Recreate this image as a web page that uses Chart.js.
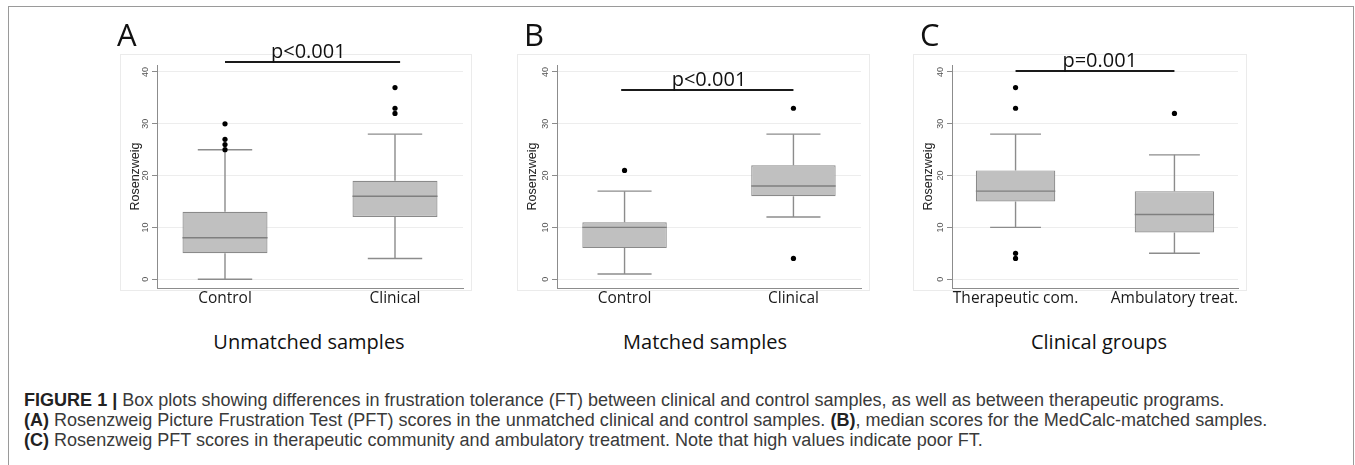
<!DOCTYPE html>
<html><head><meta charset="utf-8">
<script src="https://cdn.jsdelivr.net/npm/chart.js@4.4.1/dist/chart.umd.min.js"></script>
<style>
html,body{margin:0;padding:0;background:#fff;}
body{width:1355px;height:465px;overflow:hidden;position:relative;font-family:'Open Sans',sans-serif;}
#frame{position:absolute;left:8px;top:6px;width:1346px;height:480px;border:1px solid #9a9a9a;box-sizing:border-box;}
.region{position:absolute;top:54px;height:237px;border:1px solid #ebebeb;box-sizing:border-box;}
canvas{position:absolute;top:30px;}
.letter{position:absolute;top:19px;font-family:'Open Sans';font-size:31px;line-height:31px;color:#111;}
.sub{position:absolute;top:332px;font-family:'Open Sans';font-size:20px;line-height:20px;color:#111;transform:translateX(-50%);white-space:nowrap;}
.cap{position:absolute;left:24px;font-family:'Liberation Sans',Arial,sans-serif;color:#3a3a3a;white-space:nowrap;line-height:20px;font-size:16px;}
.cap b{color:#222;}
</style>
</head><body>
<div id="frame"></div>
<div class="region" style="left:120px;width:352px"></div>
<div class="region" style="left:517px;width:353px"></div>
<div class="region" style="left:913px;width:334px"></div>
<canvas id="cA" width="352" height="290" style="left:120px"></canvas>
<canvas id="cB" width="353" height="290" style="left:517px"></canvas>
<canvas id="cC" width="334" height="290" style="left:913px"></canvas>
<div class="letter" style="left:117px">A</div>
<div class="letter" style="left:524px">B</div>
<div class="letter" style="left:920px">C</div>
<div class="sub" style="left:309px">Unmatched samples</div>
<div class="sub" style="left:705px">Matched samples</div>
<div class="sub" style="left:1099px">Clinical groups</div>
<div class="cap" id="cap1" style="top:390px"><b>FIGURE 1 |</b> Box plots showing differences in frustration tolerance (FT) between clinical and control samples, as well as between therapeutic programs.</div>
<div class="cap" id="cap2" style="top:410px"><b>(A)</b> Rosenzweig Picture Frustration Test (PFT) scores in the unmatched clinical and control samples. <b>(B)</b>, median scores for the MedCalc-matched samples.</div>
<div class="cap" id="cap3" style="top:430px"><b>(C)</b> Rosenzweig PFT scores in therapeutic community and ambulatory treatment. Note that high values indicate poor FT.</div>
<script>
// ---- data ----
const yTicks = [0, 10, 20, 30, 40];
const xPos = [1, 2];

const catsA = ['Control', 'Clinical'];
const minA = [0, 4];
const q1A = [5, 12];
const medA = [8, 16];
const q3A = [13, 19];
const maxA = [25, 28];
const outA = [[25, 26, 27, 30], [32, 33, 37]];

const catsB = ['Control', 'Clinical'];
const minB = [1, 12];
const q1B = [6, 16];
const medB = [10, 18];
const q3B = [11, 22];
const maxB = [17, 28];
const outB = [[21], [33, 4]];

const catsC = ['Therapeutic com.', 'Ambulatory treat.'];
const minC = [10, 5];
const q1C = [15, 9];
const medC = [17, 12.5];
const q3C = [21, 17];
const maxC = [28, 24];
const outC = [[37, 33, 5, 4], [32]];

const pLabels = ['p<0.001', 'p<0.001', 'p=0.001'];
const bracketY = [42.0, 36.5, 40.1];
const bracketFrom = [1, 0.98, 1];
const bracketTo = [2.03, 2.0, 2.0];
const labelX = [1.49, 1.5, 1.53];

// ---- styles ----
const GRAY = '#8c8c8c';

function halfWidth(ctx, units) {
  const s = ctx.chart.scales.x;
  return Math.abs(s.getPixelForValue(1 + units) - s.getPixelForValue(1));
}

function makePanel(id, idx, cats, mins, q1s, meds, q3s, maxs, outs, yAxisWidth) {
  const whisk = [];
  xPos.forEach((x, i) => {
    whisk.push({x, y: q3s[i]}, {x, y: maxs[i]}, {x, y: null},
               {x, y: q1s[i]}, {x, y: mins[i]}, {x, y: null});
  });
  const caps = [];
  xPos.forEach((x, i) => { caps.push({x, y: mins[i]}, {x, y: maxs[i]}); });

  const bracketPlugin = {
    id: 'bracket' + idx,
    afterDraw(chart) {
      const c = chart.ctx, xs = chart.scales.x, ys = chart.scales.y;
      const y = Math.round(ys.getPixelForValue(bracketY[idx]));
      c.save();
      c.strokeStyle = '#1a1a1a';
      c.lineWidth = 2;
      c.beginPath();
      c.moveTo(xs.getPixelForValue(bracketFrom[idx]), y);
      c.lineTo(xs.getPixelForValue(bracketTo[idx]), y);
      c.stroke();
      c.fillStyle = '#111';
      c.font = '20px "Open Sans"';
      c.textAlign = 'center';
      c.textBaseline = 'alphabetic';
      c.fillText(pLabels[idx], xs.getPixelForValue(labelX[idx]), y - 4);
      c.restore();
    }
  };

  return new Chart(document.getElementById(id), {
    type: 'bar',
    data: {
      datasets: [
        {
          type: 'scatter', order: 0,
          data: outs.flatMap((arr, i) => arr.map(v => ({x: xPos[i], y: v}))),
          pointRadius: 2.6, pointBackgroundColor: '#000', pointBorderWidth: 0
        },
        {
          type: 'scatter', order: 1,
          data: meds.map((v, i) => ({x: xPos[i], y: v})),
          pointStyle: 'line', pointRadius: ctx => halfWidth(ctx, 0.25),
          pointBorderColor: '#7f7f7f', pointBorderWidth: 1.4
        },
        {
          type: 'scatter', order: 2,
          data: caps,
          pointStyle: 'line', pointRadius: ctx => halfWidth(ctx, 0.16),
          pointBorderColor: GRAY, pointBorderWidth: 1.4
        },
        {
          type: 'line', order: 3,
          data: whisk, spanGaps: false,
          borderColor: GRAY, borderWidth: 1.4, pointRadius: 0, fill: false
        },
        {
          type: 'bar', order: 4,
          data: q1s.map((v, i) => ({x: xPos[i], y: [v, q3s[i]]})),
          backgroundColor: '#c0c0c0', borderColor: '#8a8a8a', borderWidth: 1.2,
          borderSkipped: false, barPercentage: 0.5, categoryPercentage: 1
        }
      ]
    },
    options: {
      responsive: false, animation: false, events: [],
      layout: {padding: {top: 35, right: 9, left: 0, bottom: 0}},
      plugins: {legend: {display: false}, tooltip: {enabled: false}},
      scales: {
        x: {
          type: 'linear', min: 0.6, max: 2.4, offset: false,
          afterBuildTicks: s => { s.ticks = xPos.map(v => ({value: v})); },
          afterFit: s => { s.height = 32; },
          ticks: {
            callback: (v, i) => cats[i], autoSkip: false, maxRotation: 0, minRotation: 0,
            font: {family: 'Open Sans', size: 15.5}, color: '#1a1a1a', padding: 1
          },
          grid: {display: false, drawTicks: false, offset: false},
          border: {display: true, color: GRAY, width: 1}
        },
        y: {
          min: -1.7, max: 41.35,
          afterBuildTicks: s => { s.ticks = yTicks.map(v => ({value: v})); },
          afterFit: s => { s.width = yAxisWidth; },
          ticks: {
            minRotation: 90, maxRotation: 90, crossAlign: 'center', padding: 1,
            font: {family: 'Liberation Sans', size: 9}, color: '#555'
          },
          grid: {color: '#ededed', tickColor: GRAY, tickLength: 5, lineWidth: 1},
          border: {display: true, color: GRAY, width: 1},
          title: {
            display: true, text: 'Rosenzweig', color: '#222',
            font: {family: 'Liberation Sans', size: 12.5}, padding: {top: 8, bottom: 0}
          }
        }
      }
    },
    plugins: [bracketPlugin]
  });
}

makePanel('cA', 0, catsA, minA, q1A, medA, q3A, maxA, outA, 37);
makePanel('cB', 1, catsB, minB, q1B, medB, q3B, maxB, outB, 40);
makePanel('cC', 2, catsC, minC, q1C, medC, q3C, maxC, outC, 39);

// fit caption font size to the reference line width
(function () {
  const c1 = document.getElementById('cap1');
  const w = c1.getBoundingClientRect().width;
  const size = 16 * 1201 / w;
  ['cap1', 'cap2', 'cap3'].forEach(id => { document.getElementById(id).style.fontSize = size.toFixed(2) + 'px'; });
})();
</script>
</body></html>
